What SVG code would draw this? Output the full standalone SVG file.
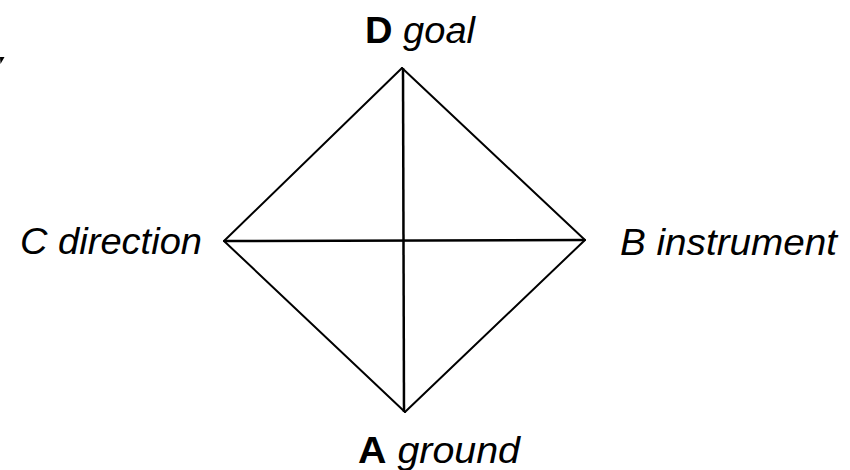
<svg xmlns="http://www.w3.org/2000/svg" width="850" height="470" viewBox="0 0 850 470">
<style>
.lbl{font-family:"Liberation Sans","Open Sans",sans-serif;font-size:37px;fill:#000;font-weight:bold}
.it{font-style:italic;font-weight:normal}
.edge{stroke:#000;stroke-width:2;fill:none;stroke-linecap:round}
.axis{stroke:#000;stroke-width:2.5;fill:none}
</style>
<rect width="850" height="470" fill="#fff"/>
<polygon points="0,57 4.5,57 0.5,64" fill="#000"/>
<g id="connectors">
<line class="edge" x1="402" y1="68" x2="585" y2="240"/>
<line class="edge" x1="585" y1="240" x2="405" y2="412"/>
<line class="edge" x1="405" y1="412" x2="224" y2="241"/>
<line class="edge" x1="224" y1="241" x2="402" y2="68"/>
<line class="axis" x1="403" y1="68" x2="404" y2="412"/>
<line class="axis" x1="224" y1="241" x2="585" y2="240"/>
</g>
<g id="node-D">
<text class="lbl" x="365" y="43" textLength="110" lengthAdjust="spacingAndGlyphs">D<tspan class="it"> goal</tspan></text>
</g>
<g id="node-C">
<text class="lbl it" x="20" y="254" textLength="182" lengthAdjust="spacingAndGlyphs">C direction</text>
</g>
<g id="node-B">
<text class="lbl it" x="620" y="255" textLength="217" lengthAdjust="spacingAndGlyphs">B instrument</text>
</g>
<g id="node-A">
<text class="lbl" x="358" y="463" textLength="162" lengthAdjust="spacingAndGlyphs">A<tspan class="it"> ground</tspan></text>
</g>
</svg>
